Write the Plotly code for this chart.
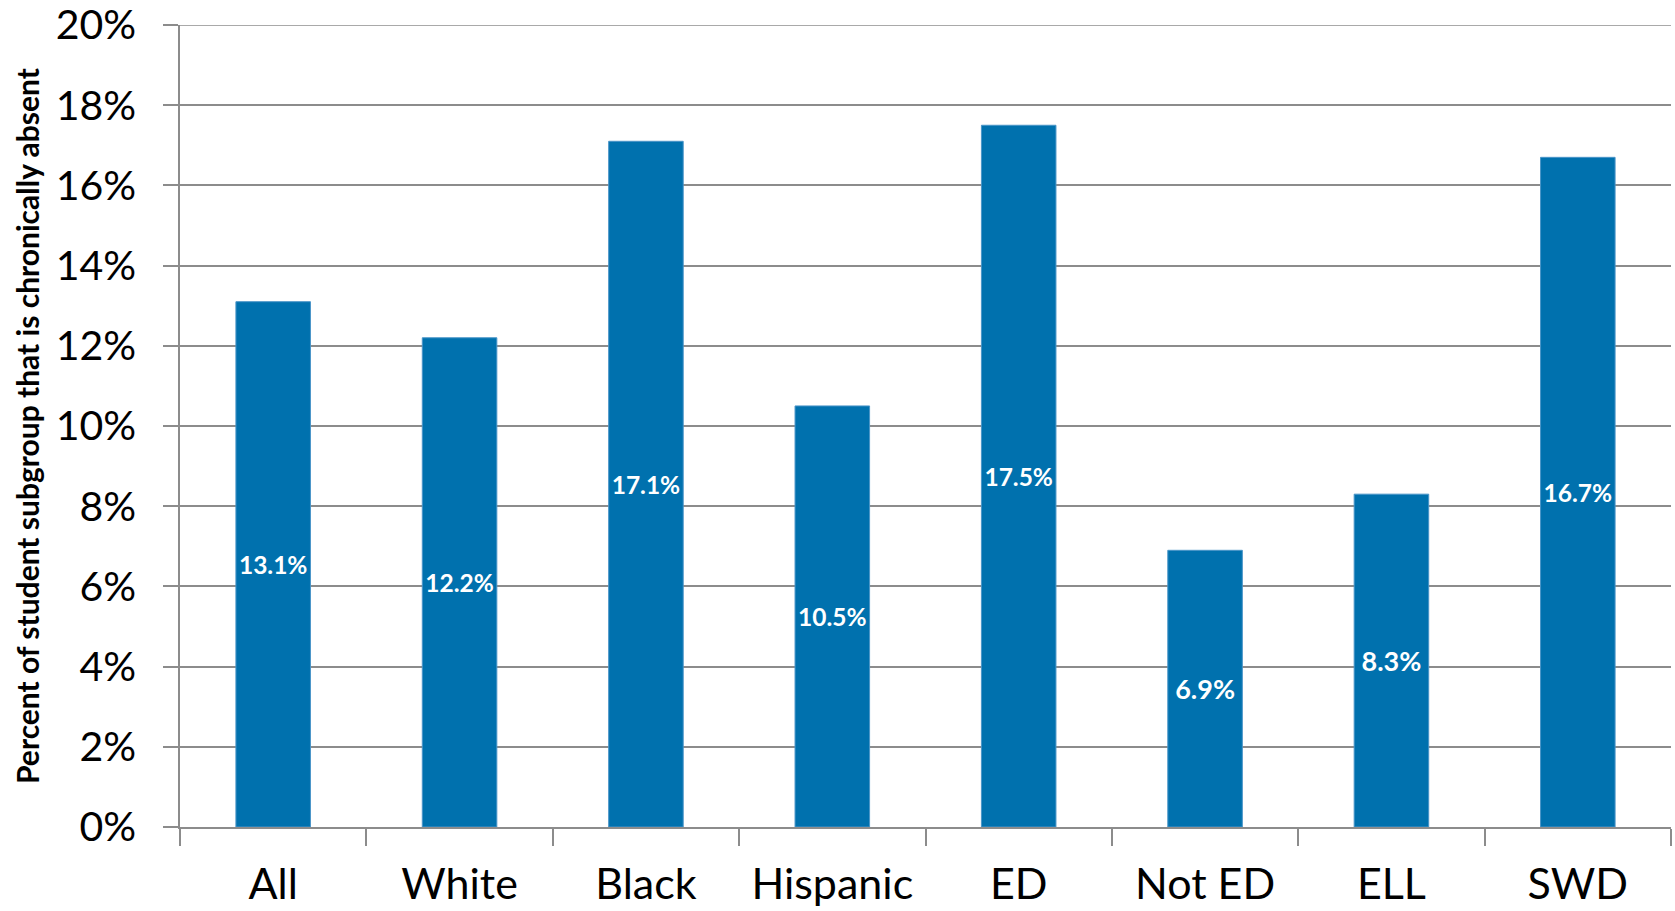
import plotly.graph_objects as go

# Chronic absence rate by student subgroup
categories = ["All", "White", "Black", "Hispanic", "ED", "Not ED", "ELL", "SWD"]
absence_pct = [13.1, 12.2, 17.1, 10.5, 17.5, 6.9, 8.3, 16.7]
y_ticks = [0, 2, 4, 6, 8, 10, 12, 14, 16, 18, 20]
y_tick_labels = [f"{v}%" for v in y_ticks]

BAR_COLOR = "#0071AE"
GRID_COLOR = "#8c8c8c"
FONT = "Lato"

fig = go.Figure(
    go.Bar(
        x=categories,
        y=absence_pct,
        marker=dict(color=BAR_COLOR, line=dict(color="#4a95c8", width=1)),
        text=[f"{v:.1f}%" for v in absence_pct],
        textposition="inside",
        insidetextanchor="middle",
        textangle=0,
        textfont=dict(family=FONT, size=27, color="white", weight="bold"),
        cliponaxis=False,
    )
)

fig.update_layout(
    width=1675,
    height=911,
    margin=dict(l=180, r=4, t=25, b=84),
    paper_bgcolor="white",
    plot_bgcolor="white",
    bargap=0.6,
    showlegend=False,
    font=dict(family=FONT, color="black"),
    uniformtext=dict(mode=False),
)

fig.update_xaxes(
    type="category",
    automargin=False,
    showline=True,
    linecolor=GRID_COLOR,
    linewidth=1.5,
    ticks="outside",
    tickson="boundaries",
    ticklen=17,
    tickcolor=GRID_COLOR,
    tickwidth=1.5,
    tickfont=dict(family=FONT, size=43, color="black"),
    ticklabelstandoff=19,
    ticklabeloverflow="allow",
    showgrid=False,
)

fig.update_yaxes(
    range=[0, 20],
    automargin=False,
    tickvals=y_ticks,
    ticktext=y_tick_labels,
    showline=True,
    linecolor=GRID_COLOR,
    linewidth=1.5,
    ticks="outside",
    ticklen=15,
    tickcolor=GRID_COLOR,
    tickwidth=1.5,
    tickfont=dict(family=FONT, size=41, color="black"),
    ticklabelstandoff=19,
    ticklabeloverflow="allow",
    showgrid=True,
    gridcolor=GRID_COLOR,
    gridwidth=1.5,
    zeroline=False,
)

# Gridline at the top of the value range
fig.add_shape(
    type="line",
    xref="paper",
    yref="y",
    x0=0,
    x1=1,
    y0=y_ticks[-1],
    y1=y_ticks[-1],
    line=dict(color=GRID_COLOR, width=1.5),
    layer="below",
)

fig.add_annotation(
    text="Percent of student subgroup that is chronically absent",
    textangle=-90,
    xref="paper",
    yref="paper",
    x=0,
    y=0.5,
    xshift=-153,
    yshift=0,
    xanchor="center",
    yanchor="middle",
    showarrow=False,
    font=dict(family=FONT, size=30, color="black", weight="bold"),
)

fig.write_html("out.html")
